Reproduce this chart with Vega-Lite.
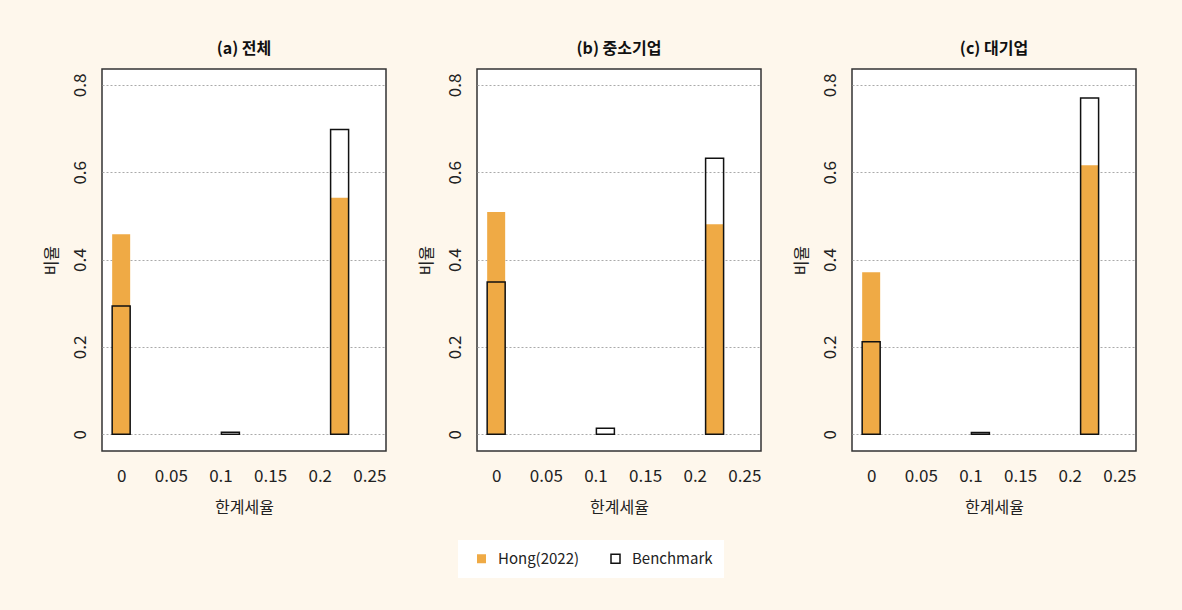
{
  "$schema": "https://vega.github.io/schema/vega-lite/v6.json",
  "background": "#FEF7EC",
  "padding": {"left": 42, "top": 41, "right": 50, "bottom": 45},
  "data": {
    "values": [
      {"panel": "(a) 전체", "rate": 0, "series": "Hong(2022)", "share": 0.458},
      {"panel": "(a) 전체", "rate": 0.11, "series": "Hong(2022)", "share": 0},
      {"panel": "(a) 전체", "rate": 0.22, "series": "Hong(2022)", "share": 0.542},
      {"panel": "(a) 전체", "rate": 0, "series": "Benchmark", "share": 0.294},
      {"panel": "(a) 전체", "rate": 0.11, "series": "Benchmark", "share": 0.005},
      {"panel": "(a) 전체", "rate": 0.22, "series": "Benchmark", "share": 0.698},
      {"panel": "(b) 중소기업", "rate": 0, "series": "Hong(2022)", "share": 0.509},
      {"panel": "(b) 중소기업", "rate": 0.11, "series": "Hong(2022)", "share": 0},
      {"panel": "(b) 중소기업", "rate": 0.22, "series": "Hong(2022)", "share": 0.481},
      {"panel": "(b) 중소기업", "rate": 0, "series": "Benchmark", "share": 0.349},
      {"panel": "(b) 중소기업", "rate": 0.11, "series": "Benchmark", "share": 0.014},
      {"panel": "(b) 중소기업", "rate": 0.22, "series": "Benchmark", "share": 0.632},
      {"panel": "(c) 대기업", "rate": 0, "series": "Hong(2022)", "share": 0.371},
      {"panel": "(c) 대기업", "rate": 0.11, "series": "Hong(2022)", "share": 0},
      {"panel": "(c) 대기업", "rate": 0.22, "series": "Hong(2022)", "share": 0.616},
      {"panel": "(c) 대기업", "rate": 0, "series": "Benchmark", "share": 0.212},
      {"panel": "(c) 대기업", "rate": 0.11, "series": "Benchmark", "share": 0.004},
      {"panel": "(c) 대기업", "rate": 0.22, "series": "Benchmark", "share": 0.770}
    ]
  },
  "facet": {
    "column": {
      "field": "panel",
      "type": "nominal",
      "title": null,
      "header": {
        "labelFont": "Noto Sans CJK KR",
        "labelFontSize": 16,
        "labelFontWeight": "bold",
        "labelColor": "#111111",
        "labelPadding": 12
      }
    }
  },
  "spacing": 91,
  "bounds": "flush",
  "resolve": {"axis": {"y": "independent", "x": "independent"}},
  "spec": {
    "width": 284,
    "height": 382,
    "mark": {"type": "bar", "width": 18, "strokeWidth": 1.5, "clip": true},
    "encoding": {
      "x": {
        "field": "rate",
        "type": "quantitative",
        "scale": {"domain": [-0.01427, 0.2617], "nice": false, "zero": false},
        "axis": {"values": [0, 0.05, 0.1, 0.15, 0.2, 0.25], "format": "~g", "title": "한계세율"}
      },
      "y": {
        "field": "share",
        "type": "quantitative",
        "stack": null,
        "scale": {"domain": [-0.0382, 0.8366], "nice": false, "zero": false},
        "axis": {"values": [0, 0.2, 0.4, 0.6, 0.8], "format": "~g", "title": "비율"}
      },
      "fill": {
        "field": "series",
        "type": "nominal",
        "scale": {"domain": ["Hong(2022)", "Benchmark"], "range": ["#EFAA45", "rgba(0,0,0,0)"]},
        "legend": {
          "title": null,
          "orient": "none",
          "legendX": 356,
          "legendY": 471,
          "direction": "horizontal",
          "fillColor": "white",
          "padding": 11,
          "symbolOffset": 5,
          "symbolType": "square",
          "symbolSize": 81,
          "symbolStrokeWidth": 1.5,
          "labelFont": "Noto Sans CJK KR",
          "labelFontSize": 15,
          "labelColor": "#222222",
          "labelOffset": 9,
          "columnPadding": 23
        }
      },
      "stroke": {
        "field": "series",
        "type": "nominal",
        "scale": {"domain": ["Hong(2022)", "Benchmark"], "range": ["rgba(0,0,0,0)", "#111111"]},
        "legend": {"title": null}
      }
    }
  },
  "config": {
    "view": {"stroke": "#333333", "strokeWidth": 1.5, "fill": "white"},
    "axis": {
      "labelFont": "Noto Sans CJK KR",
      "titleFont": "Noto Sans CJK KR",
      "labelFontSize": 17,
      "titleFontSize": 16,
      "titleFontWeight": "normal",
      "labelColor": "#222222",
      "titleColor": "#222222",
      "domain": false,
      "ticks": false,
      "tickSize": 0
    },
    "axisY": {
      "labelAngle": -90,
      "labelAlign": "center",
      "labelBaseline": "bottom",
      "labelPadding": 13,
      "titlePadding": 12,
      "grid": true,
      "gridDash": [2, 2],
      "gridColor": "#AAAAAA",
      "gridWidth": 1
    },
    "axisX": {
      "labelPadding": 17,
      "titlePadding": 15,
      "grid": false
    }
  }
}
